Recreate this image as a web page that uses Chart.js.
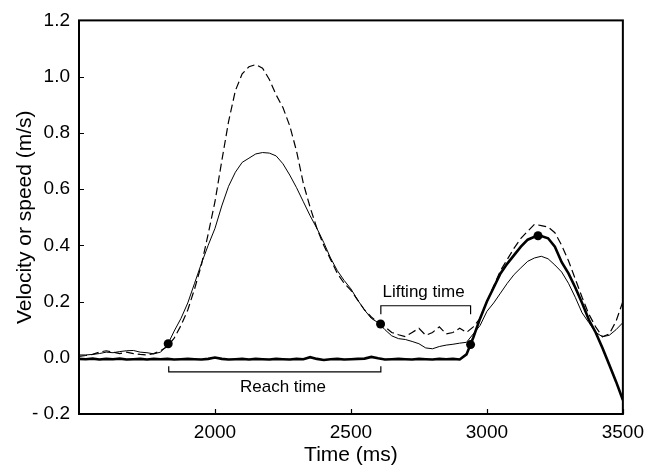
<!DOCTYPE html>
<html>
<head>
<meta charset="utf-8">
<script src="https://cdn.jsdelivr.net/npm/chart.js@4.4.1/dist/chart.umd.min.js"></script>
<style>
  html, body { margin: 0; padding: 0; background: #fff; }
  canvas { display: block; }
</style>
</head>
<body>
<canvas id="velocityChart" width="651" height="468"></canvas>
<script>
// time axis, one sample every 25 ms
const timeMs = [
  1500, 1525, 1550, 1575, 1600, 1625, 1650, 1675, 1700, 1725, 1750, 1775, 1800, 1825, 1850, 1875,
  1900, 1925, 1950, 1975, 2000, 2025, 2050, 2075, 2100, 2125, 2150, 2175, 2200, 2225, 2250, 2275,
  2300, 2325, 2350, 2375, 2400, 2425, 2450, 2475, 2500, 2525, 2550, 2575, 2600, 2625, 2650, 2675,
  2700, 2725, 2750, 2775, 2800, 2825, 2850, 2875, 2900, 2925, 2950, 2975, 3000, 3025, 3050, 3075,
  3100, 3125, 3150, 3175, 3200, 3225, 3250, 3275, 3300, 3325, 3350, 3375, 3400, 3425, 3450, 3475, 3500
];

// thin solid trace
const speedThin = [
  0.010, 0.010, 0.012, 0.015, 0.020, 0.018, 0.022, 0.025, 0.026, 0.020, 0.018, 0.014, 0.020, 0.045, 0.095, 0.140,
  0.195, 0.265, 0.335, 0.400, 0.460, 0.540, 0.610, 0.660, 0.695, 0.710, 0.725, 0.730, 0.728, 0.718, 0.690, 0.650,
  0.605, 0.555, 0.505, 0.460, 0.410, 0.355, 0.310, 0.275, 0.245, 0.205, 0.170, 0.140, 0.125, 0.100, 0.078, 0.068,
  0.065, 0.058, 0.050, 0.035, 0.032, 0.040, 0.045, 0.048, 0.052, 0.055, 0.085, 0.115, 0.165, 0.195, 0.230, 0.265,
  0.296, 0.320, 0.343, 0.355, 0.361, 0.352, 0.330, 0.305, 0.265, 0.215, 0.160, 0.125, 0.090, 0.075, 0.080, 0.100, 0.125
];

// dashed trace
const speedDashed = [
  0.005, 0.008, 0.012, 0.020, 0.025, 0.020, 0.015, 0.020, 0.015, 0.012, 0.010, 0.015, 0.025, 0.040, 0.070, 0.115,
  0.170, 0.245, 0.330, 0.440, 0.555, 0.700, 0.840, 0.950, 1.010, 1.035, 1.043, 1.030, 0.990, 0.935, 0.890, 0.825,
  0.735, 0.620, 0.535, 0.460, 0.400, 0.350, 0.300, 0.265, 0.240, 0.205, 0.170, 0.145, 0.125, 0.110, 0.090, 0.082,
  0.075, 0.090, 0.105, 0.080, 0.090, 0.110, 0.085, 0.090, 0.105, 0.090, 0.110, 0.140, 0.200, 0.255, 0.310, 0.350,
  0.390, 0.425, 0.450, 0.475, 0.470, 0.465, 0.445, 0.400, 0.345, 0.280, 0.215, 0.155, 0.110, 0.075, 0.085, 0.130, 0.200
];

// thick trace
const velocityThick = [
  -0.004, -0.005, -0.003, -0.006, -0.004, -0.005, -0.003, -0.006, -0.005, -0.004, -0.006, -0.004, -0.005, -0.004, -0.006, -0.005,
  -0.004, -0.005, -0.006, -0.004, 0.001, -0.004, -0.006, -0.005, -0.004, -0.006, -0.004, -0.005, -0.006, -0.004, -0.005, -0.006,
  -0.004, -0.005, 0.002, -0.004, -0.008, -0.005, -0.004, -0.006, -0.005, -0.004, -0.003, 0.003, -0.002, -0.006, -0.005, -0.004,
  -0.005, -0.006, -0.004, -0.005, -0.006, -0.004, -0.005, -0.004, -0.006, 0.012, 0.072, 0.140, 0.200, 0.250, 0.300, 0.335,
  0.365, 0.395, 0.420, 0.430, 0.433, 0.425, 0.395, 0.340, 0.300, 0.250, 0.195, 0.135, 0.090, 0.035, -0.025, -0.085, -0.150
];

// event markers (filled dots)
const eventTimes = [1828, 2609, 2940, 3188];
const eventValues = [0.05, 0.12, 0.047, 0.434];

// brackets
const reachBracketX = [1830, 1830, 2610, 2610];
const reachBracketY = [-0.03, -0.05, -0.05, -0.03];
const liftBracketX = [2610, 2610, 2940, 2940];
const liftBracketY = [0.155, 0.185, 0.185, 0.155];

const noteLabels = ["Reach time", "Lifting time"];
const noteX = [2250, 2767];
const noteY = [-0.105, 0.233];

const xTickValues = [2000, 2500, 3000, 3500];
const yTickValues = [-0.2, 0, 0.2, 0.4, 0.6, 0.8, 1.0, 1.2];

const FONT = "'Liberation Sans', Arial, Helvetica, sans-serif";

const toPoints = (xs, ys) => xs.map((x, i) => ({ x: x, y: ys[i] }));

const framePlugin = {
  id: "frame",
  afterDraw(chart) {
    const ctx = chart.ctx;
    const a = chart.chartArea;
    const xs = chart.scales.x, ys = chart.scales.y;
    ctx.save();
    ctx.strokeStyle = "#000";
    ctx.lineWidth = 2;
    ctx.strokeRect(a.left, a.top, a.right - a.left, a.bottom - a.top);
    ctx.lineWidth = 1.2;
    ctx.beginPath();
    xTickValues.forEach(v => {
      const px = Math.round(xs.getPixelForValue(v)) + 0.5;
      ctx.moveTo(px, a.bottom);
      ctx.lineTo(px, a.bottom - 5);
    });
    yTickValues.forEach(v => {
      const py = Math.round(ys.getPixelForValue(v)) + 0.5;
      ctx.moveTo(a.left, py);
      ctx.lineTo(a.left + 5, py);
    });
    ctx.stroke();
    // notes
    ctx.fillStyle = "#000";
    ctx.font = "17px " + FONT;
    ctx.textAlign = "center";
    ctx.textBaseline = "middle";
    noteLabels.forEach((t, i) => {
      ctx.fillText(t, xs.getPixelForValue(noteX[i]), ys.getPixelForValue(noteY[i]));
    });
    ctx.restore();
  }
};

new Chart(document.getElementById("velocityChart"), {
  type: "line",
  data: {
    datasets: [
      {
        data: toPoints(timeMs, speedThin),
        borderColor: "#000",
        borderWidth: 1,
        pointRadius: 0
      },
      {
        data: toPoints(timeMs, speedDashed),
        borderColor: "#000",
        borderWidth: 1.2,
        borderDash: [8, 4],
        pointRadius: 0
      },
      {
        data: toPoints(timeMs, velocityThick),
        borderColor: "#000",
        borderWidth: 2.6,
        pointRadius: 0
      },
      {
        data: toPoints(reachBracketX, reachBracketY),
        borderColor: "#000",
        borderWidth: 1.2,
        pointRadius: 0
      },
      {
        data: toPoints(liftBracketX, liftBracketY),
        borderColor: "#000",
        borderWidth: 1.2,
        pointRadius: 0
      },
      {
        data: toPoints(eventTimes, eventValues),
        showLine: false,
        pointRadius: 4.5,
        pointBackgroundColor: "#000",
        pointBorderColor: "#000",
        pointBorderWidth: 0
      }
    ]
  },
  options: {
    responsive: false,
    animation: false,
    devicePixelRatio: 1,
    layout: { padding: { top: 16, right: 25, left: 0, bottom: 0 } },
    plugins: {
      legend: { display: false },
      tooltip: { enabled: false }
    },
    scales: {
      x: {
        type: "linear",
        min: 1500,
        max: 3500,
        grid: { display: false, drawTicks: false },
        border: { display: false },
        afterBuildTicks: s => { s.ticks = xTickValues.map(v => ({ value: v })); },
        afterFit: s => { s.height = 54; },
        ticks: {
          color: "#000",
          font: { family: FONT, size: 19 },
          padding: 7,
          maxRotation: 0,
          callback: v => String(v)
        },
        title: {
          display: true,
          text: "Time (ms)",
          color: "#000",
          font: { family: FONT, size: 21 },
          padding: { top: 0, bottom: 0 }
        }
      },
      y: {
        type: "linear",
        min: -0.2,
        max: 1.2,
        grid: { display: false, drawTicks: false },
        border: { display: false },
        afterBuildTicks: s => { s.ticks = yTickValues.map(v => ({ value: v })); },
        afterFit: s => { s.width = 79; },
        ticks: {
          color: "#000",
          font: { family: FONT, size: 19 },
          padding: 9,
          callback: v => (v < 0 ? "- " + Math.abs(v).toFixed(1) : v.toFixed(1))
        },
        title: {
          display: true,
          text: "Velocity or speed (m/s)",
          color: "#000",
          font: { family: FONT, size: 21 },
          padding: { top: 13, bottom: 0 }
        }
      }
    }
  },
  plugins: [framePlugin]
});
</script>
</body>
</html>
